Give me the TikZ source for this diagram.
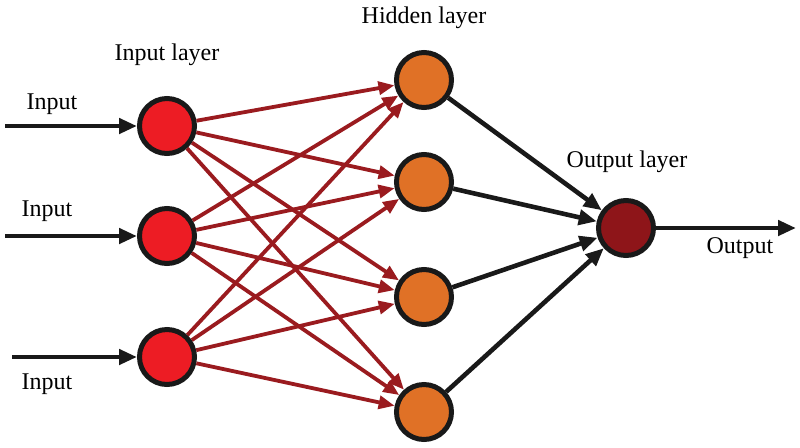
\documentclass[tikz,border=0pt]{standalone}
\usepackage{fontspec}
\setmainfont{Liberation Serif}
\usetikzlibrary{arrows.meta}
\definecolor{inred}{HTML}{ED1C24}
\definecolor{hidorange}{HTML}{E07126}
\definecolor{outred}{HTML}{8E1519}
\definecolor{linkred}{HTML}{9A1B1F}

\begin{document}
\begin{tikzpicture}[x=0.5pt, y=-0.5pt, font=\fontsize{12}{14}\selectfont,
    neuron/.style={circle, draw=black!90, line width=2.5pt, minimum size=27.5pt, inner sep=0pt},
    link/.style={draw=linkred, line width=1.9pt, -{Triangle[length=8pt,width=6.5pt]}},
    flow/.style={draw=black!90, line width=2.3pt, -{Triangle[length=9pt,width=7.5pt]}}]
    \useasboundingbox (0,0) rectangle (800,447);
    % layers
    \node[neuron, fill=inred] (in1) at (167,126) {};
    \node[neuron, fill=inred] (in2) at (167,236) {};
    \node[neuron, fill=inred] (in3) at (167,357) {};
    \node[neuron, fill=hidorange] (hid1) at (424,80) {};
    \node[neuron, fill=hidorange] (hid2) at (424,182) {};
    \node[neuron, fill=hidorange] (hid3) at (424,297) {};
    \node[neuron, fill=hidorange] (hid4) at (424,412) {};
    \node[neuron, fill=outred] (out) at (626,228) {};
    % captions
    \node (capin) at (167,55) {Input layer};
    \node (caphid) at (424,18) {Hidden layer};
    \node (capout) at (627,162) {Output layer};
    \node (lblin1) at (52,104) {Input};
    \node (lblin2) at (47,211) {Input};
    \node (lblin3) at (47,384) {Input};
    \node (lblout) at (740,248) {Output};
    % signals in and out
    \coordinate (src1) at (5,126);
    \coordinate (src2) at (5,236);
    \coordinate (src3) at (12,357);
    \coordinate (sink) at (796,228);
    \draw[flow] (src1) -- (in1);
    \draw[flow] (src2) -- (in2);
    \draw[flow] (src3) -- (in3);
    \draw[flow] (out) -- (sink);
    % connections
    \foreach \i in {1,2,3}
        \foreach \j in {1,2,3,4}
            \draw[link] (in\i) -- (hid\j);
    \foreach \j in {1,2,3,4}
        \draw[flow] (hid\j) -- (out);
\end{tikzpicture}
\end{document}
